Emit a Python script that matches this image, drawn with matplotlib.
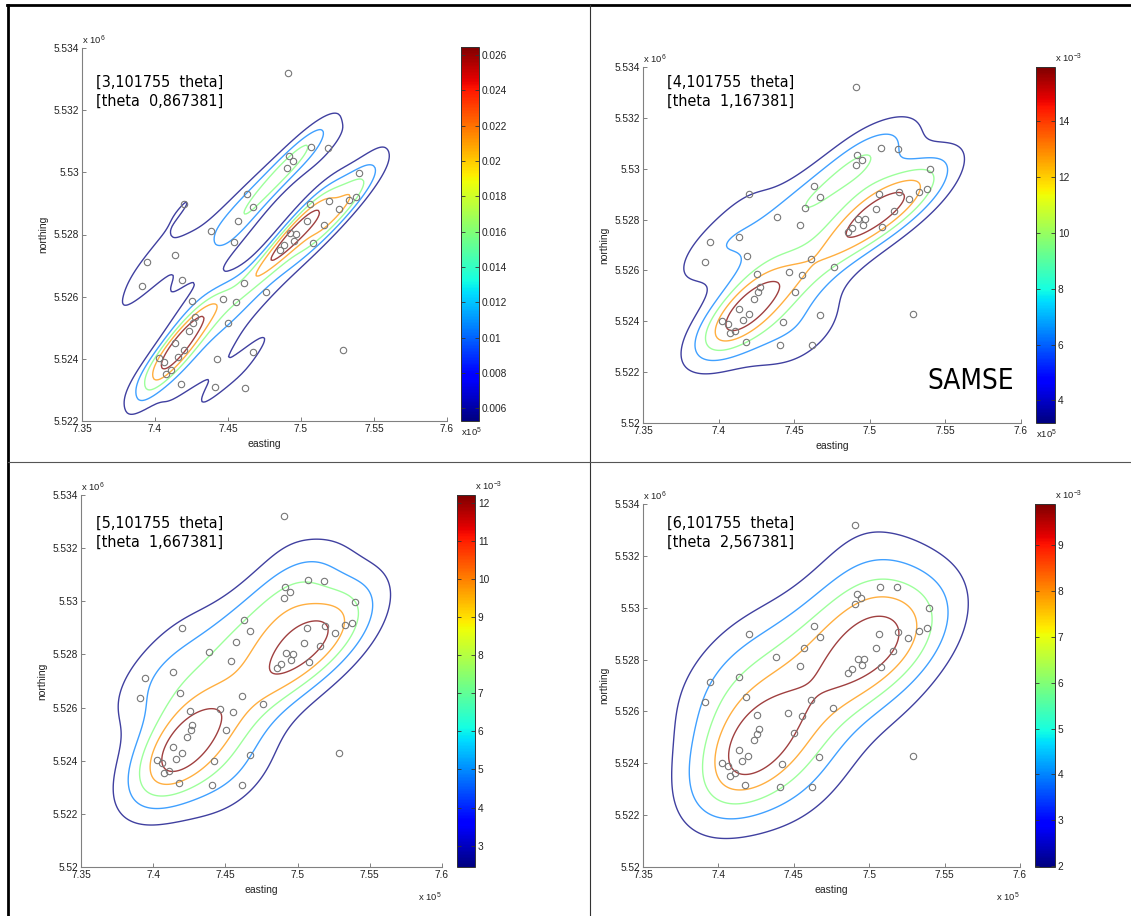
import numpy as np
import matplotlib
matplotlib.use("Agg")
import matplotlib.pyplot as plt
from matplotlib.lines import Line2D
from matplotlib.colors import Normalize
from matplotlib.cm import ScalarMappable

plt.rcParams["font.family"] = ["Liberation Sans", "DejaVu Sans"]
plt.rcParams["mathtext.fontset"] = "custom"
plt.rcParams["mathtext.rm"] = "Liberation Sans"
plt.rcParams["mathtext.it"] = "Liberation Sans"

# sample locations (easting in 1e5 m, northing in 1e6 m)
easting = [7.4909, 7.5071, 7.5186, 7.4916, 7.4946, 7.4907, 7.5398, 7.4632, 7.5380,
           7.4202, 7.5062, 7.5193, 7.5328, 7.4673, 7.5259, 7.4570, 7.5042, 7.4385,
           7.5158, 7.4923, 7.4968, 7.4541, 7.4955, 7.5080, 7.4884, 7.4858, 7.3944,
           7.4134, 7.4186, 7.3909, 7.4612, 7.4763, 7.4463, 7.4255, 7.4554, 7.4271,
           7.4259, 7.4502, 7.4234, 7.4136, 7.4198, 7.4159, 7.4024, 7.4424, 7.4669,
           7.5289, 7.4063, 7.4111, 7.4076, 7.4179, 7.4408, 7.4618]
northing = [5.53320, 5.53080, 5.53078, 5.53052, 5.53036, 5.53013, 5.52998, 5.52931,
            5.52920, 5.52899, 5.52899, 5.52907, 5.52910, 5.52888, 5.52882, 5.52845,
            5.52843, 5.52811, 5.52832, 5.52804, 5.52801, 5.52777, 5.52780, 5.52772,
            5.52765, 5.52750, 5.52712, 5.52733, 5.52655, 5.52635, 5.52644, 5.52615,
            5.52594, 5.52586, 5.52582, 5.52533, 5.52514, 5.52515, 5.52488, 5.52450,
            5.52429, 5.52407, 5.52402, 5.52399, 5.52423, 5.52428, 5.52390, 5.52363,
            5.52352, 5.52318, 5.52308, 5.52307]

# bandwidth matrix diagonals (km^2) shown in each panel
h11 = [3.101755, 4.101755, 5.101755, 6.101755]
h22 = [0.867381, 1.167381, 1.667381, 2.567381]
h11_txt = ["3,101755", "4,101755", "5,101755", "6,101755"]
h22_txt = ["0,867381", "1,167381", "1,667381", "2,567381"]
theta = 1.52

# lowest contour level of each panel (levels are 1..5 times this)
level_step = [0.00529, 0.00319, 0.00244, 0.00198]


def kde(gx, gy, px, py, H):
    Hi = np.linalg.inv(H)
    norm = 1.0 / (2 * np.pi * np.sqrt(np.linalg.det(H))) / len(px)
    Z = np.zeros_like(gx)
    for x0, y0 in zip(px, py):
        dx = gx - x0
        dy = gy - y0
        q = Hi[0, 0] * dx * dx + 2 * Hi[0, 1] * dx * dy + Hi[1, 1] * dy * dy
        Z += np.exp(-0.5 * q)
    return Z * norm


W, Hpx = 1131, 916
fig = plt.figure(figsize=(W / 100, Hpx / 100), dpi=100)


def box(l, r, t, b):
    return [l / W, 1 - b / Hpx, (r - l) / W, (b - t) / Hpx]


panels = [
    dict(ax=box(82, 447, 48, 421), cb=box(461, 479, 47, 421), ymin=5.522,
         txt=(96, 92), cb_scale=None, xlab="cb"),
    dict(ax=box(643, 1021, 67, 423), cb=box(1036, 1055, 67, 423), ymin=5.52,
         txt=(667, 92), cb_scale=-3, xlab="cb"),
    dict(ax=box(81, 442, 495, 867), cb=box(457, 475, 495, 867), ymin=5.52,
         txt=(96, 533), cb_scale=-3, xlab="axis"),
    dict(ax=box(643, 1020, 504, 867), cb=box(1035, 1055, 504, 867), ymin=5.52,
         txt=(667, 533), cb_scale=-3, xlab="axis"),
]

px_km = np.array(easting) * 100.0
py_km = np.array(northing) * 1000.0
gxs = np.linspace(735, 760, 250)
gys = np.linspace(5518, 5536, 250)
GX, GY = np.meshgrid(gxs, gys)

axis_grey = "#808080"
for i, p in enumerate(panels):
    ax = fig.add_axes(p["ax"])
    H = np.array([[h11[i], theta], [theta, h22[i]]])
    Z = kde(GX, GY, px_km, py_km, H)
    levels = [level_step[i] * k for k in range(1, 6)]
    ax.contour(GX / 100.0, GY / 1000.0, Z, levels=levels, cmap="jet",
               vmin=levels[0], vmax=levels[-1], linewidths=1.0, alpha=0.75)
    ax.plot(easting, northing, "o", mfc="none", mec="#777777", ms=4.6, mew=0.8)
    ax.set_xlim(7.35, 7.6)
    ax.set_ylim(p["ymin"], 5.534)
    ax.set_xticks([7.35, 7.4, 7.45, 7.5, 7.55, 7.6])
    ax.set_yticks(np.arange(p["ymin"], 5.5341, 0.002))
    ax.xaxis.set_major_formatter(plt.FuncFormatter(lambda v, _: f"{v:g}"))
    ax.yaxis.set_major_formatter(plt.FuncFormatter(lambda v, _: f"{round(v, 4):g}"))
    for s in ("top", "right"):
        ax.spines[s].set_visible(False)
    for s in ("left", "bottom"):
        ax.spines[s].set_linewidth(0.8)
        ax.spines[s].set_color(axis_grey)
    ax.tick_params(direction="in", length=3, width=0.7, color=axis_grey,
                   labelsize=7.3, labelcolor="#222222", pad=2)
    ax.set_xlabel("easting", fontsize=7.5, labelpad=4, color="#222222")
    ax.set_ylabel("northing", fontsize=7.5, labelpad=4, color="#222222")
    ax.text(0.0, 1.002, r"x 10$^{6}$", transform=ax.transAxes, fontsize=6.8,
            ha="left", va="bottom", color="#222222")

    tx, ty = p["txt"]
    fig.text(tx / W, 1 - ty / Hpx, f"[{h11_txt[i]}  theta]\n[theta  {h22_txt[i]}]",
             family="DejaVu Sans", fontsize=11.5, fontstretch="condensed",
             ha="left", va="center", linespacing=1.35)

    cax = fig.add_axes(p["cb"])
    if p["cb_scale"] is None:
        sm = ScalarMappable(Normalize(levels[0], levels[-1]), cmap="jet")
        cb = fig.colorbar(sm, cax=cax)
        cb.set_ticks(np.arange(0.006, 0.0265, 0.002))
        cb.ax.yaxis.set_major_formatter(plt.FuncFormatter(lambda v, _: f"{round(v, 3):g}"))
    else:
        sm = ScalarMappable(Normalize(levels[0] * 1e3, levels[-1] * 1e3), cmap="jet")
        cb = fig.colorbar(sm, cax=cax)
        lo = int(np.ceil(levels[0] * 1e3))
        hi = int(np.floor(levels[-1] * 1e3))
        step = 2 if i == 1 else 1
        start = lo + (lo % 2) if i == 1 else lo
        cb.set_ticks(list(range(start, hi + 1, step)))
        cax.text(1.0, 1.005, r"x 10$^{-3}$", transform=cax.transAxes, fontsize=6.8,
                 ha="left", va="bottom", color="#222222")
    cb.outline.set_linewidth(0.7)
    cb.outline.set_edgecolor("#333333")
    cax.tick_params(direction="in", length=3, width=0.6, left=True, right=True,
                    labelsize=7.3, labelcolor="#222222", color="#333333", pad=2)

    if p["xlab"] == "cb":
        cax.text(0.0, -0.012, r"x10$^{5}$", transform=cax.transAxes, fontsize=6.8,
                 ha="left", va="top", color="#222222")
    else:
        ax.text(1.0, -0.065, r"x 10$^{5}$", transform=ax.transAxes, fontsize=6.8,
                ha="right", va="top", color="#222222")

fig.text(927 / W, 1 - 381 / Hpx, "SAMSE", family="DejaVu Sans", fontsize=20,
         fontstretch="condensed", ha="left", va="center")

# frame lines of the composite
fig.add_artist(Line2D([7 / W, 1], [1 - 5 / Hpx] * 2, color="black", lw=2))
fig.add_artist(Line2D([8 / W] * 2, [0, 1 - 5 / Hpx], color="black", lw=2))
fig.add_artist(Line2D([590 / W] * 2, [0, 1 - 5 / Hpx], color="#333333", lw=0.8))
fig.add_artist(Line2D([8 / W, 1], [1 - 462 / Hpx] * 2, color="#555555", lw=0.8))

fig.savefig("out.png", dpi=100)
